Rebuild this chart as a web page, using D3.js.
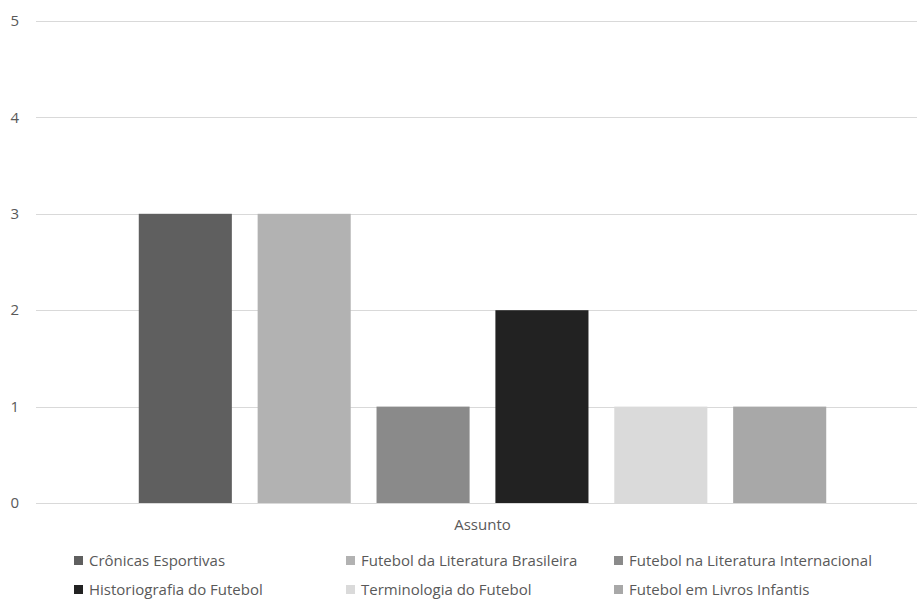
<!DOCTYPE html>
<html lang="pt">

<head>
    <meta charset="UTF-8">
    <title>Assunto</title>
    <style>
        body { margin: 0; background: #fff; }
        text { font-family: "Open Sans", Lato, sans-serif; fill: #595959; }
    </style>
</head>

<body>
    <script src="https://cdn.jsdelivr.net/npm/d3@7"></script>
    <script>
        const categories = ['Assunto'];
        const series = [
            'Crônicas Esportivas',
            'Futebol da Literatura Brasileira',
            'Futebol na Literatura Internacional',
            'Historiografia do Futebol',
            'Terminologia do Futebol',
            'Futebol em Livros Infantis'
        ];
        const values = [3, 3, 1, 2, 1, 1];
        const colors = ['#5f5f5f', '#b2b2b2', '#8a8a8a', '#222222', '#dadada', '#a8a8a8'];
        const yTicks = [0, 1, 2, 3, 4, 5];

        const svg_w = 917, svg_h = 599;
        const plot_l = 36, plot_r = 929, plot_t = 21, plot_b = 503;
        const fs = '15px';

        const svg = d3.select('body').append('svg')
            .attr('width', svg_w)
            .attr('height', svg_h);

        const y = d3.scaleLinear().domain([0, 5]).range([plot_b, plot_t]);

        const x0 = d3.scaleBand()
            .domain(categories)
            .range([plot_l, plot_r])
            .paddingInner(0)
            .paddingOuter(0.126);

        const x1 = d3.scaleBand()
            .domain(series)
            .range([0, x0.bandwidth()])
            .paddingInner(0.217)
            .paddingOuter(0.1085);

        // gridlines
        svg.append('g')
            .selectAll('line')
            .data(yTicks)
            .join('line')
            .attr('x1', plot_l)
            .attr('x2', svg_w)
            .attr('y1', d => Math.round(y(d)) + 0.5)
            .attr('y2', d => Math.round(y(d)) + 0.5)
            .attr('stroke', '#d9d9d9')
            .attr('stroke-width', 1);

        // y labels
        svg.append('g')
            .selectAll('text')
            .data(yTicks)
            .join('text')
            .attr('x', 19)
            .attr('y', d => y(d))
            .attr('dy', '0.35em')
            .attr('text-anchor', 'end')
            .style('font-size', fs)
            .text(d => d);

        // bars
        const g = svg.append('g')
            .attr('transform', `translate(${x0(categories[0])},0)`);

        g.selectAll('rect')
            .data(series.map((s, i) => ({ s, v: values[i], c: colors[i] })))
            .join('rect')
            .attr('x', d => x1(d.s))
            .attr('y', d => y(d.v))
            .attr('width', x1.bandwidth())
            .attr('height', d => y(0) - y(d.v))
            .attr('fill', d => d.c);

        // category label
        svg.append('text')
            .attr('x', x0(categories[0]) + x0.bandwidth() / 2)
            .attr('y', 530)
            .attr('text-anchor', 'middle')
            .style('font-size', fs)
            .text(categories[0]);

        // legend
        const colX = [74, 346, 614];
        const rowY = [561, 590];
        const legend = svg.append('g')
            .selectAll('g')
            .data(series)
            .join('g')
            .attr('transform', (d, i) => `translate(${colX[i % 3]},${rowY[Math.floor(i / 3)]})`);

        legend.append('rect')
            .attr('x', 0)
            .attr('y', -5)
            .attr('width', 9)
            .attr('height', 9)
            .attr('fill', (d, i) => colors[i]);

        legend.append('text')
            .attr('x', 15)
            .attr('y', 0)
            .attr('dy', '0.35em')
            .style('font-size', fs)
            .text(d => d);
    </script>
</body>

</html>
